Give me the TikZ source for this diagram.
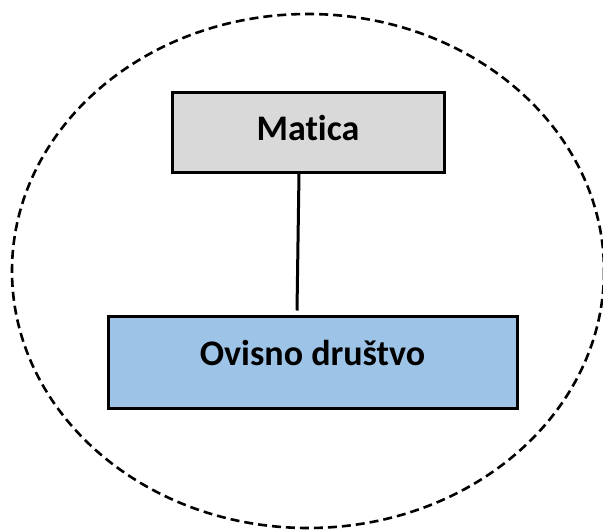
\documentclass[tikz,border=0pt]{standalone}
\usepackage{fontspec}
\setmainfont[Ligatures=NoCommon]{Carlito}
\usepackage{tikz}

\definecolor{maticagray}{HTML}{D9D9D9}
\definecolor{ovisnoblue}{HTML}{9DC3E6}

\begin{document}
\begin{tikzpicture}[x=1pt,y=-1pt,line width=3pt,
    box/.style={draw=black,rectangle,inner sep=0pt,
      font=\fontsize{36}{40}\selectfont\bfseries}]
      \useasboundingbox (0,0) rectangle (603,531);

      \draw[line width=2.6pt,dash pattern=on 9pt off 5pt] (308,271) ellipse (296 and 257);

      \node[box,fill=maticagray,minimum width=272pt,minimum height=80pt,
        text height=28pt,text depth=12pt] (matica) at (308,132) {Matica};
      \node[box,fill=ovisnoblue,minimum width=409pt,minimum height=92pt,
        text height=30pt,text depth=24pt] (ovisno) at (312.5,362) {Ovisno društvo};

      \draw ([xshift=-9pt]matica.south) -- ([xshift=-15.5pt,yshift=4pt]ovisno.north);
\end{tikzpicture}
\end{document}
